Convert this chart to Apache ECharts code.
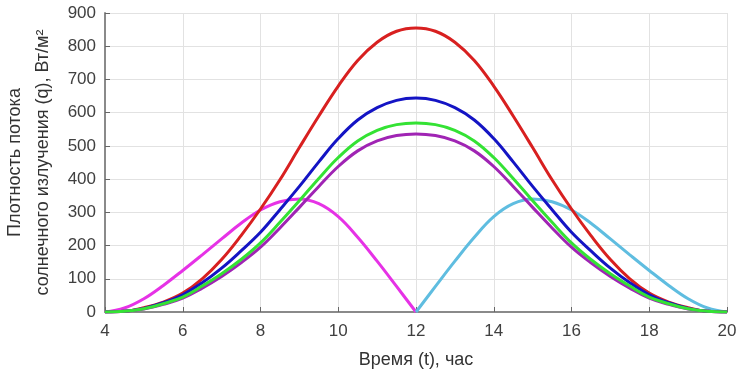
<!DOCTYPE html>
<html>
<head>
<meta charset="utf-8">
<script src="https://cdn.jsdelivr.net/npm/echarts@6/dist/echarts.min.js"></script>
<style>
html,body{margin:0;padding:0;background:#fff;}
#chart{width:738px;height:376px;}
</style>
</head>
<body>
<div id="chart"></div>
<script>
// Time points (hours)
const hours = [4,4.5,5,5.5,6,6.5,7,7.5,8,8.5,9,9.5,10,10.5,11,11.5,12,12.5,13,13.5,14,14.5,15,15.5,16,16.5,17,17.5,18,18.5,19,19.5,20];
// Series values (W/m2)
const redVals    = [0,2,13,30,57,100,158,230,310,398,495,590,680,757,812,845,855,845,812,757,680,590,495,398,310,230,158,100,57,30,13,2,0];
const blueVals   = [0,2,11,28,52,88,132,184,240,308,378,452,522,578,615,637,644,637,615,578,522,452,378,308,240,184,132,88,52,28,11,2,0];
const greenVals  = [0,2,10,25,45,78,115,158,208,270,335,402,465,515,547,564,569,564,547,515,465,402,335,270,208,158,115,78,45,25,10,2,0];
const purpleVals = [0,2,9,23,42,72,107,148,195,253,315,378,438,485,515,531,536,531,515,485,438,378,315,253,195,148,107,72,42,23,9,2,0];
const magentaHours = [4,4.5,5,5.5,6,6.5,7,7.5,8,8.5,9,9.5,10,10.5,11,11.5,12];
const magentaVals  = [0,12,40,80,125,172,220,267,307,332,340,326,287,225,153,77,0];
const cyanHours = [12,12.5,13,13.5,14,14.5,15,15.5,16,16.5,17,17.5,18,18.5,19,19.5,20];
const cyanVals  = [0,77,153,225,287,326,340,332,307,267,220,172,125,80,40,12,0];
const xTicks = [4,6,8,10,12,14,16,18,20];
const yTicks = [0,100,200,300,400,500,600,700,800,900];

function pairs(xs, ys){ return xs.map((x,i)=>[x, ys[i]]); }

const chart = echarts.init(document.getElementById('chart'), null, {renderer:'canvas'});
const font = 'Liberation Sans, Arial, sans-serif';
function line(name, color, xs, ys, z){
  return {name, type:'line', data:pairs(xs,ys), showSymbol:false, smooth:0.4,
    lineStyle:{color, width:3}, itemStyle:{color}, z, animation:false};
}
chart.setOption({
  animation:false,
  backgroundColor:'#fff',
  grid:{left:105, right:11, top:13, bottom:64, containLabel:false, outerBoundsMode:'none'},
  xAxis:{type:'value', min:xTicks[0], max:xTicks[xTicks.length-1], interval:2,
    name:'Время (t), час', nameLocation:'middle', nameGap:39,
    nameTextStyle:{fontFamily:font, fontSize:18, color:'#333'},
    axisLine:{show:true, onZero:false, lineStyle:{color:'#8a8a8a', width:2}},
    axisTick:{show:true, inside:true, length:5, lineStyle:{color:'#666'}},
    axisLabel:{fontFamily:font, fontSize:17, color:'#404040', margin:11},
    splitLine:{show:true, lineStyle:{color:'#e2e2e2', width:1}}},
  yAxis:{type:'value', min:yTicks[0], max:yTicks[yTicks.length-1], interval:100,
    name:'Плотность потока\nсолнечного излучения (q), Вт/м²', nameLocation:'middle', nameGap:48,
    nameTextStyle:{fontFamily:font, fontSize:18, color:'#333', lineHeight:28},
    axisLine:{show:true, lineStyle:{color:'#8a8a8a', width:2}},
    axisTick:{show:true, inside:true, length:5, lineStyle:{color:'#666'}},
    axisLabel:{fontFamily:font, fontSize:17, color:'#404040', margin:9},
    splitLine:{show:true, lineStyle:{color:'#e2e2e2', width:1}}},
  series:[
    line('magenta','#e632e6', magentaHours, magentaVals, 2),
    line('cyan','#5fbde0', cyanHours, cyanVals, 2),
    line('red','#d82020', hours, redVals, 3),
    line('blue','#1414c4', hours, blueVals, 4),
    line('purple','#a024b4', hours, purpleVals, 5),
    line('green','#34e234', hours, greenVals, 6)
  ]
});
</script>
</body>
</html>
